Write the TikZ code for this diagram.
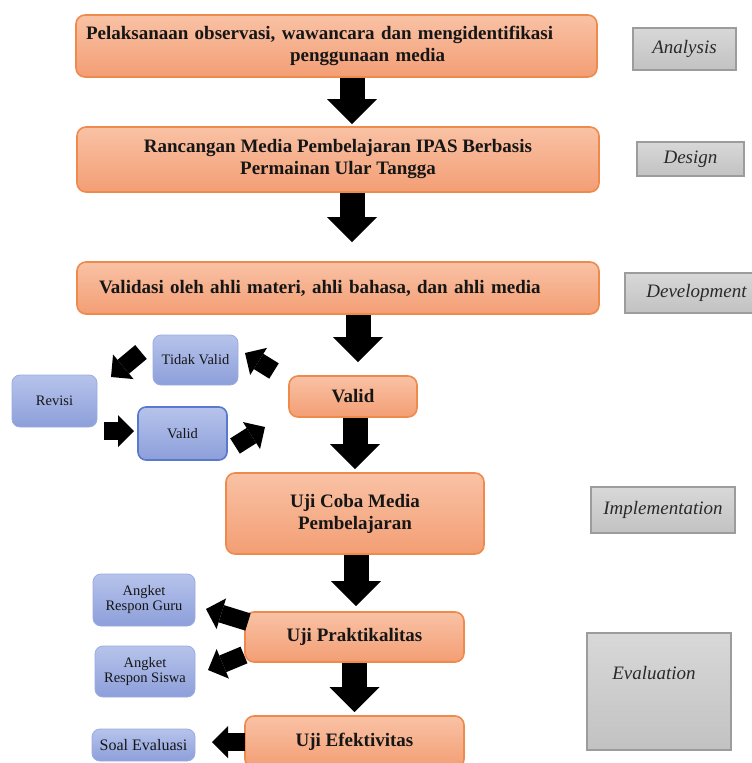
\documentclass[tikz,border=0pt]{standalone}
\usepackage{fontspec}
\setmainfont{Liberation Serif}
\usetikzlibrary{arrows.meta,calc}
\definecolor{orTop}{HTML}{F9C2A5}
\definecolor{orBot}{HTML}{F39E74}
\definecolor{orLine}{HTML}{EE8A4C}
\definecolor{blTop}{HTML}{B6C3EB}
\definecolor{blBot}{HTML}{8D9FDA}
\definecolor{blEdge}{HTML}{9AABDF}
\definecolor{blLine}{HTML}{5A78CC}
\definecolor{gyTop}{HTML}{D8D8D8}
\definecolor{gyBot}{HTML}{C2C2C2}
\definecolor{gyLine}{HTML}{9C9C9C}
\definecolor{txt}{HTML}{161616}
\definecolor{gtxt}{HTML}{2A2A2A}
\begin{document}
\begin{tikzpicture}[x=1pt,y=-1pt,
 obox/.style={draw=orLine, line width=1.6pt, rounded corners=9pt, top color=orTop, bottom color=orBot,
   font=\fontsize{19}{22}\selectfont\bfseries, text=txt, align=center, inner sep=0pt},
 bbox/.style={draw=blEdge, line width=0.8pt, rounded corners=8pt, top color=blTop, bottom color=blBot,
   font=\fontsize{14.5}{15}\selectfont, text=txt, align=center, inner sep=0pt},
 gbox/.style={draw=gyLine, line width=1.5pt, top color=gyTop, bottom color=gyBot,
   font=\fontsize{19}{22}\selectfont\itshape, text=gtxt, inner sep=0pt},
 bigarrow/.style={line width=25pt, -{Triangle[width=50pt,length=25pt,line width=0pt]}},
 smallarrow/.style={line width=18pt, -{Triangle[width=32pt,length=16pt,line width=0pt]}},
]
\useasboundingbox (0,0) rectangle (752,763);
\clip (0,0) rectangle (752,763);

% orange process boxes
\node[obox, minimum width=521pt, minimum height=62pt, text width=501pt, align=left] (o1) at (336.5,46)
  {Pelaksanaan observasi, wawancara dan mengidentifikasi\\\hspace*{204pt}penggunaan media};
\node[obox, minimum width=522pt, minimum height=65pt] (o2) at (338,159.5)
  {Rancangan Media Pembelajaran IPAS Berbasis\\Permainan Ular Tangga};
\node[obox, minimum width=522pt, minimum height=52pt, text width=478pt, align=left] (o3) at (338,288)
  {Validasi oleh ahli materi, ahli bahasa, dan ahli media};
\node[obox, minimum width=128pt, minimum height=41pt] (o4) at (353,396.5) {Valid};
\node[obox, minimum width=258pt, minimum height=81pt] (o5) at (355,513.5) {Uji Coba Media\\Pembelajaran};
\node[obox, minimum width=219pt, minimum height=50pt] (o6) at (354.5,637) {Uji Praktikalitas};
\node[obox, minimum width=219pt, minimum height=52pt] (o7) at (354.5,742) {Uji Efektivitas};

% grey phase boxes
\node[gbox, minimum width=103pt, minimum height=42pt] (an) at (684.5,49) {Analysis};
\node[gbox, minimum width=107pt, minimum height=34pt] (de) at (690.5,159) {Design};
\node[gbox, minimum width=143pt, minimum height=40pt] (dv) at (696.5,293) {Development};
\node[gbox, minimum width=144pt, minimum height=46pt] (im) at (663,510) {Implementation};
\node[gbox, minimum width=144pt, minimum height=117pt] (ev) at (659,691.5) {};
\node[font=\fontsize{19}{22}\selectfont\itshape, text=gtxt, inner sep=0pt] (evt) at (654,673) {Evaluation};

% blue boxes
\node[bbox, minimum width=85pt, minimum height=50pt] (tv) at (195.5,360) {Tidak Valid};
\node[bbox, minimum width=85pt, minimum height=52pt] (rv) at (54.5,401) {Revisi};
\node[bbox, draw=blLine, line width=1.6pt, minimum width=89pt, minimum height=53pt] (vb) at (182.5,433.5) {Valid};
\node[bbox, minimum width=102pt, minimum height=52pt] (ag) at (144,600) {Angket\\Respon Guru};
\node[bbox, minimum width=100pt, minimum height=51pt] (as) at (145,671.5) {Angket\\Respon Siswa};
\node[bbox, minimum width=103pt, minimum height=32pt, font=\fontsize{16}{17}\selectfont] (se) at (143.5,745) {Soal Evaluasi};

% main down arrows
\draw[bigarrow, shorten >=2pt] ([xshift=15.5pt]o1.south) -- ([xshift=14pt]o2.north);
\draw[bigarrow, shorten >=19pt] ([xshift=14pt]o2.south) -- ([xshift=14pt]o3.north);
\draw[bigarrow, shorten >=13pt] ([xshift=20pt]o3.south) -- ([xshift=5pt]o4.north);
\draw[bigarrow, shorten >=3pt] ([xshift=2pt]o4.south) -- (o5.north);
\draw[bigarrow, shorten >=5pt] ([xshift=1pt]o5.south) -- ([xshift=1.5pt]o6.north);
\draw[bigarrow, shorten >=3pt] (o6.south) -- (o7.north);

% small side arrows
\coordinate (s1a) at (274,371); \coordinate (s1b) at (245,353);
\coordinate (s2a) at (141,352); \coordinate (s2b) at (111,377);
\coordinate (s3a) at (104,431); \coordinate (s3b) at (134,431);
\coordinate (s4a) at (235,446); \coordinate (s4b) at (265,427);
\coordinate (s5a) at (248,622); \coordinate (s5b) at (206,609);
\coordinate (s6a) at (244,655); \coordinate (s6b) at (208,670);
\coordinate (s7a) at (245,742); \coordinate (s7b) at (212,742);
\draw[smallarrow] (s1a) -- (s1b);
\draw[smallarrow] (s2a) -- (s2b);
\draw[smallarrow] (s3a) -- (s3b);
\draw[smallarrow] (s4a) -- (s4b);
\draw[smallarrow] (s5a) -- (s5b);
\draw[smallarrow] (s6a) -- (s6b);
\draw[smallarrow] (s7a) -- (s7b);
\end{tikzpicture}
\end{document}
